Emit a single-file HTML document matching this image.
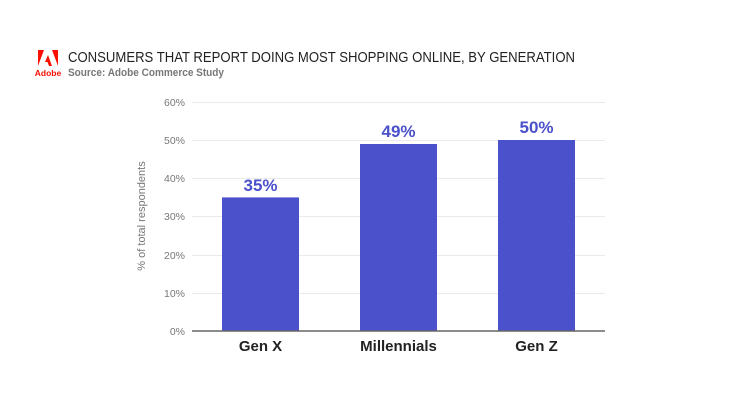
<!DOCTYPE html>
<html><head><style>
body{margin:0;width:750px;height:413px;background:#fff;overflow:hidden;font-family:"Liberation Sans",sans-serif}
</style></head><body>
<svg width="750" height="413" xmlns="http://www.w3.org/2000/svg" font-family="Liberation Sans, sans-serif">
<polygon points="38,50 44,50 38,66" fill="#fa0f00"/>
<polygon points="52,50 58,50 58,66" fill="#fa0f00"/>
<polygon points="48,55 52,66 49,66 47.5,62 45,62" fill="#fa0f00"/>
<text x="48" y="76" font-size="8.5" font-weight="bold" fill="#fa0f00" text-anchor="middle">Adobe</text>
<text x="68" y="62" font-size="15" fill="#222" textLength="507" lengthAdjust="spacingAndGlyphs">CONSUMERS THAT REPORT DOING MOST SHOPPING ONLINE, BY GENERATION</text>
<text x="68" y="76" font-size="11" font-weight="bold" fill="#777" textLength="156" lengthAdjust="spacingAndGlyphs">Source: Adobe Commerce Study</text>
<g stroke="#eaeaea" stroke-width="1">
<line x1="192" x2="605" y1="102.5" y2="102.5"/>
<line x1="192" x2="605" y1="140.5" y2="140.5"/>
<line x1="192" x2="605" y1="178.5" y2="178.5"/>
<line x1="192" x2="605" y1="216.5" y2="216.5"/>
<line x1="192" x2="605" y1="255.5" y2="255.5"/>
<line x1="192" x2="605" y1="293.5" y2="293.5"/>
</g>
<g font-size="10.5" fill="#777" text-anchor="end">
<text x="185" y="106">60%</text>
<text x="185" y="144">50%</text>
<text x="185" y="182">40%</text>
<text x="185" y="220">30%</text>
<text x="185" y="259">20%</text>
<text x="185" y="297">10%</text>
<text x="185" y="335">0%</text>
</g>
<text transform="translate(145,216) rotate(-90)" font-size="11" fill="#777" text-anchor="middle">% of total respondents</text>
<rect x="222" y="197.4" width="77" height="133.6" fill="#4b50cb"/>
<rect x="360" y="144" width="77" height="187" fill="#4b50cb"/>
<rect x="498" y="140" width="77" height="191" fill="#4b50cb"/>
<line x1="192" x2="605" y1="331" y2="331" stroke="#666" stroke-width="1.5"/>
<g font-size="17" font-weight="bold" fill="#4b50cb" text-anchor="middle">
<text x="260.5" y="191">35%</text>
<text x="398.5" y="137">49%</text>
<text x="536.5" y="133">50%</text>
</g>
<g font-size="15" font-weight="bold" fill="#222" text-anchor="middle">
<text x="260.5" y="351">Gen X</text>
<text x="398.5" y="351">Millennials</text>
<text x="536.5" y="351">Gen Z</text>
</g>
</svg>
</body></html>
